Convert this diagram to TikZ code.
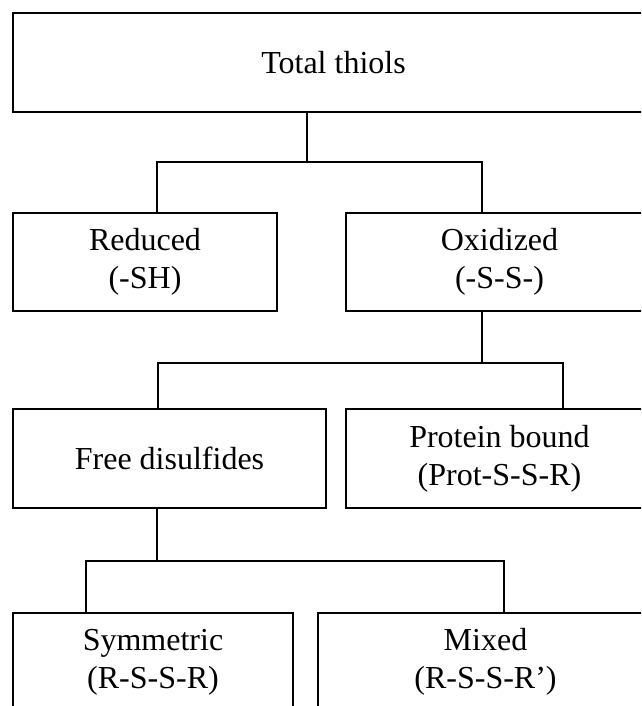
\documentclass[tikz,border=0pt]{standalone}
\usepackage{fontspec}
\setmainfont{Liberation Serif}
\usetikzlibrary{shapes}

\begin{document}
\begin{tikzpicture}[x=1pt,y=-1pt]
			\tikzstyle{thiolbox}=[rectangle,draw,line width=1.9pt,inner sep=0pt,align=center,font=\fontsize{32}{38}\selectfont]
			\tikzstyle{every node}=[thiolbox]
			\tikzstyle{link}=[line width=1.3pt]

			\useasboundingbox (0,0) rectangle (641,706);
			\clip (0,0) rectangle (641,706);

			\node[minimum width=641pt,minimum height=99pt] (total) at (333.5,62.5) {Total thiols};

			\node[minimum width=264pt,minimum height=98pt] (reduced) at (145,262) {Reduced\\(-SH)};
			\node[minimum width=307pt,minimum height=98pt] (oxidized) at (499.5,262) {Oxidized\\(-S-S-)};

			\node[minimum width=313pt,minimum height=99pt] (free) at (169.5,458.5) {Free disulfides};
			\node[minimum width=307pt,minimum height=99pt] (protein) at (499.5,458.5) {Protein bound\\(Prot-S-S-R)};

			\node[minimum width=280pt,minimum height=98pt] (symmetric) at (153,662) {Symmetric\\(R-S-S-R)};
			\node[minimum width=335pt,minimum height=98pt] (mixed) at (485.5,662) {Mixed\\(R-S-S-R')};

			\coordinate (j1) at (307,162);
			\coordinate (j1l) at (157,162);
			\coordinate (j1r) at (482,162);
			\coordinate (j2) at (482,363);
			\coordinate (j2l) at (158,363);
			\coordinate (j2r) at (563,363);
			\coordinate (j3) at (157,561);
			\coordinate (j3l) at (86,561);
			\coordinate (j3r) at (504,561);

			\draw[link] (j1 |- total.south) -- (j1);
			\draw[link] (j1l |- reduced.north) -- (j1l) -- (j1r) -- (j1r |- oxidized.north);

			\draw[link] (j2 |- oxidized.south) -- (j2);
			\draw[link] (j2l |- free.north) -- (j2l) -- (j2r) -- (j2r |- protein.north);

			\draw[link] (j3 |- free.south) -- (j3);
			\draw[link] (j3l |- symmetric.north) -- (j3l) -- (j3r) -- (j3r |- mixed.north);
\end{tikzpicture}
\end{document}
